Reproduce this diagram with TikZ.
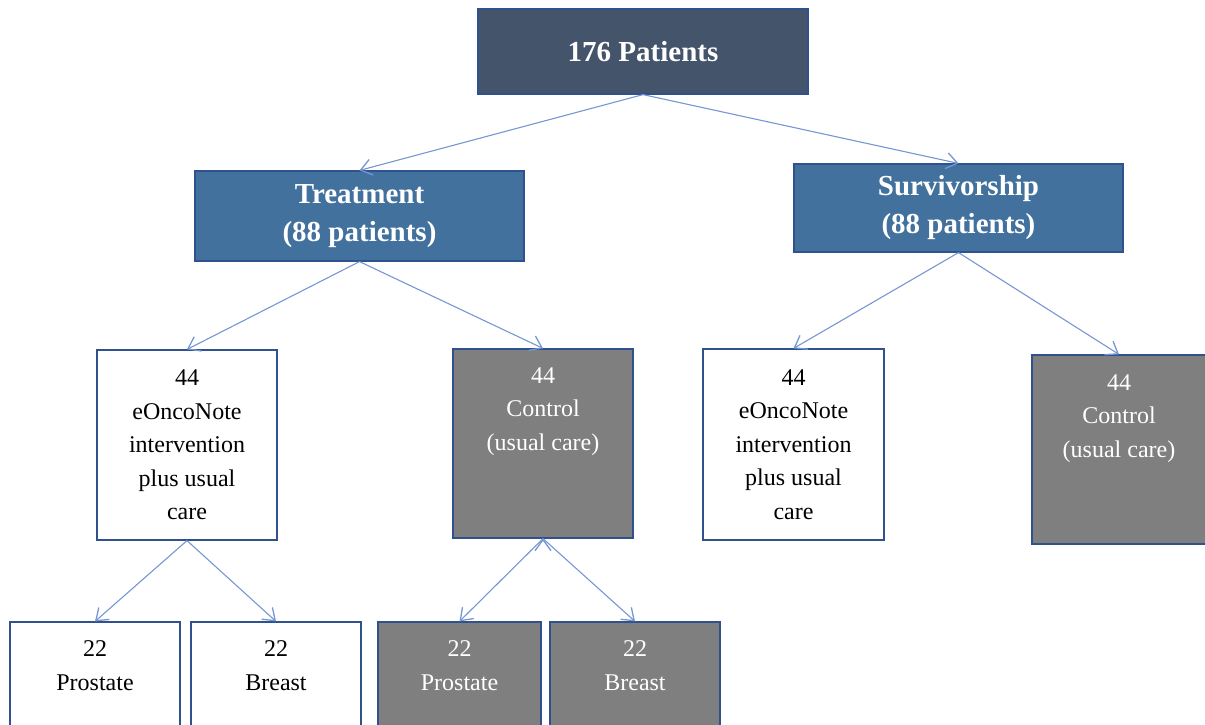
\documentclass[tikz,border=0pt]{standalone}
\usepackage{fontspec}
\setmainfont{Liberation Serif}
\usetikzlibrary{positioning,arrows.meta}
\definecolor{topfill}{RGB}{68,84,106}
\definecolor{grpfill}{RGB}{65,113,156}
\definecolor{ctlfill}{RGB}{127,127,127}
\definecolor{boxline}{RGB}{47,82,143}
\definecolor{arrline}{RGB}{118,150,212}

\begin{document}
\begin{tikzpicture}[x=1pt,y=-1pt,on grid,
    >={Straight Barb[length=11pt,width=16pt,line width=1.3pt]},
    box/.style={draw=boxline,line width=1.2pt,inner sep=0pt,align=center},
    bigtxt/.style={font=\fontsize{29}{38}\selectfont\bfseries},
    smalltxt/.style={font=\fontsize{24}{33.5}\selectfont},
    head/.style={box,bigtxt,fill=topfill,text=white,minimum width=330pt,minimum height=85pt},
    group/.style={box,bigtxt,fill=grpfill,text=white,minimum width=329pt,minimum height=90pt},
    arm/.style={box,smalltxt,fill=white,minimum width=180pt,minimum height=190pt},
    ctl/.style={box,fill=ctlfill,minimum width=180pt,minimum height=189pt},
    ctltxt/.style={smalltxt,text=white,align=center,inner sep=0pt,anchor=north,yshift=-19pt},
    leaf/.style={box,minimum width=170pt,minimum height=105pt},
    leaftxt/.style={smalltxt,align=center,inner sep=0pt,anchor=north,yshift=-19pt},
    arr/.style={->,draw=arrline,line width=1.1pt}]
  \useasboundingbox (0,0) rectangle (1205,724);

  \node[head] (all) at (643,51.5) {176 Patients};
  \node[group] (treat) [below left=164.5pt and 283.5pt of all] {Treatment\\(88 patients)};
  \node[group,minimum height=88pt] (surv) [below right=156.5pt and 315.5pt of all] {Survivorship\\(88 patients)};

  \node[arm] (t_int) [below left=229pt and 172.5pt of treat] {44\\eOncoNote\\intervention\\plus usual\\care};
  \node[ctl,label={[ctltxt]north:{44\\Control\\(usual care)}}] (t_ctl) [below right=227.5pt and 183.5pt of treat] {};
  \node[arm,minimum width=181pt,minimum height=191pt] (s_int) [below left=236.5pt and 165pt of surv] {44\\eOncoNote\\intervention\\plus usual\\care};
  \node[ctl,minimum width=174pt,label={[ctltxt,yshift=-1pt]north:{44\\Control\\(usual care)}}] (s_ctl) [below right=241.5pt and 160.5pt of surv] {};

  \node[leaf,fill=white,label={[leaftxt]north:{22\\Prostate}}] (t_pro) [below left=229.5pt and 92pt of t_int] {};
  \node[leaf,fill=white,label={[leaftxt]north:{22\\Breast}}] (t_bre) [below right=229.5pt and 89pt of t_int] {};
  \node[leaf,fill=ctlfill,minimum width=163pt,label={[leaftxt,text=white]north:{22\\Prostate}}] (c_pro) [below left=231pt and 83.5pt of t_ctl] {};
  \node[leaf,fill=ctlfill,label={[leaftxt,text=white]north:{22\\Breast}}] (c_bre) [below right=231pt and 92pt of t_ctl] {};

  \path[arr]
    (all.south) edge (treat.north)
                edge (surv.north)
    (treat.south) edge (t_int.north)
                  edge (t_ctl.north)
    (surv.south) edge (s_int.north)
                 edge (s_ctl.north)
    (t_int.south) edge (t_pro.north)
                  edge (t_bre.north)
    (t_ctl.south) edge (c_pro.north)
                  edge (c_bre.north);
\end{tikzpicture}
\end{document}
